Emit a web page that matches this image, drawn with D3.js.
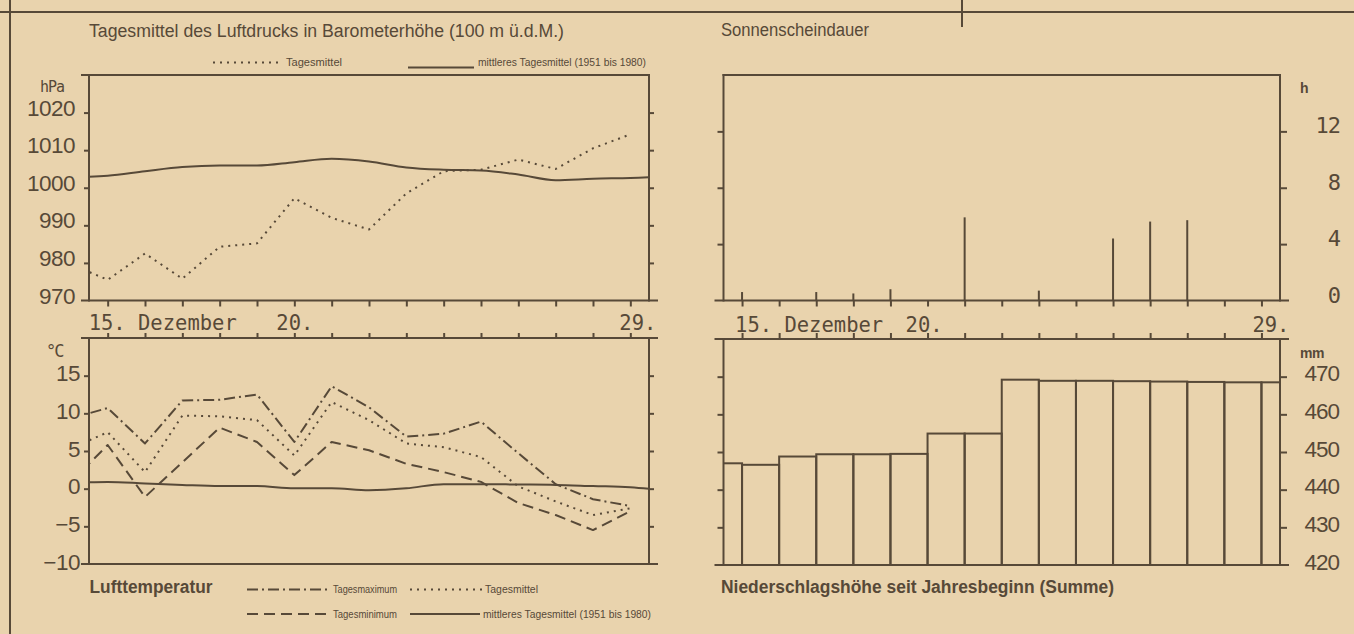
<!DOCTYPE html>
<html><head><meta charset="utf-8">
<script src="https://cdn.jsdelivr.net/npm/d3@7"></script>
<style>
html,body{margin:0;padding:0;background:#e9d3ad;}
svg{display:block}
</style></head><body>
<svg id="c" width="1354" height="634"></svg>
<script>
// ---------- data ----------
const days = [14,15,16,17,18,19,20,21,22,23,24,25,26,27,28,29];
const normalDays = [14,15,16,17,18,19,20,21,22,23,24,25,26,27,28,29,30];
const dayTicks = [15,16,17,18,19,20,21,22,23,24,25,26,27,28,29];

const pressureMean   = [979.7,975.5,982.5,975.8,984.3,985.2,997.2,992.0,988.9,998.5,1004.4,1004.8,1007.5,1005.0,1010.5,1014.2];
const pressureNormal = [1002.8,1003.2,1004.4,1005.5,1005.9,1005.9,1006.8,1007.7,1007.0,1005.4,1004.8,1004.6,1003.5,1002.0,1002.4,1002.6,1003.0];

const tempMax    = [9.3,10.7,6.0,11.7,11.8,12.5,6.2,13.6,10.8,6.9,7.3,8.9,4.7,0.6,-1.4,-2.3];
const tempMean   = [5.3,7.5,2.2,9.7,9.6,9.1,4.4,11.5,9.1,6.0,5.5,4.2,0.3,-1.7,-3.5,-2.6];
const tempMin    = [0.8,5.8,-1.1,3.5,8.1,6.2,1.8,6.2,5.1,3.3,2.2,0.9,-1.9,-3.5,-5.5,-3.0];
const tempNormal = [0.75,0.9,0.7,0.5,0.35,0.35,0.05,0.05,-0.2,0.05,0.6,0.6,0.55,0.5,0.35,0.2,-0.3];

const sunDays  = [15,16,17,18,19,20,21,22,23,24,25,26,27,28,29];
const sunshine = [0.6,0,0.6,0.5,0.8,0,5.9,0,0.7,0,4.4,5.6,5.7,0,0];

const precip = [447.0,446.6,448.8,449.4,449.4,449.5,454.9,454.9,469.2,468.9,468.9,468.8,468.7,468.6,468.5,468.5];

const pressureTicks = [970,980,990,1000,1010,1020];
const tempTicks = [-10,-5,0,5,10,15];
const sunTicks = [0,4,8,12];
const precipTicks = [420,430,440,450,460,470];
const dayLabelsLeft  = [{d:15,t:"15. Dezember",dx:-19},{d:20,t:"20.",dx:-18},{d:29,t:"29.",dx:-11}];
const dayLabelsRight = [{d:15,t:"15. Dezember",dx:-7},{d:20,t:"20.",dx:-22},{d:29,t:"29.",dx:-9}];

// ---------- setup ----------
const W=1354,H=634, INK="#574938", BG="#e9d3ad";
const svg = d3.select("#c");
svg.append("rect").attr("width",W).attr("height",H).attr("fill",BG);

const xL=d3.scaleLinear().domain([14.5,29.5]).range([89,649]);
const xR=d3.scaleLinear().domain([14.5,29.5]).range([723.5,1280]);
const yP=d3.scaleLinear().domain([970,1030]).range([300.5,75]);
const yT=d3.scaleLinear().domain([-10,20]).range([564,338]);
const yS=d3.scaleLinear().domain([0,16]).range([300.5,75]);
const yN=d3.scaleLinear().domain([420,480]).range([565,339]);

function seg(x1,y1,x2,y2,w){
  svg.append("line").attr("x1",x1).attr("y1",y1).attr("x2",x2).attr("y2",y2)
    .attr("stroke",INK).attr("stroke-width",w||2).attr("stroke-linecap","square");
}
function txt(x,y,s,o){
  o=o||{};
  const t=svg.append("text").attr("x",x).attr("y",y).text(s)
    .attr("fill",INK).attr("font-family",o.f||"Liberation Sans")
    .attr("font-size",o.s||18).attr("text-anchor",o.a||"start");
  if(o.w) t.attr("font-weight",o.w);
  if(o.tl){ t.attr("textLength",o.tl).attr("lengthAdjust","spacingAndGlyphs"); }
  if(o.ls) t.attr("letter-spacing",o.ls);
  return t;
}
function ax(gen, tx, ty){
  const g=svg.append("g").attr("transform",`translate(${tx},${ty})`).call(gen);
  g.select(".domain").remove();
  g.selectAll("line").attr("stroke",INK).attr("stroke-width",2);
  return g;
}

// ---------- page border ----------
seg(0,12,W,12,2);
seg(10,0,10,H,2);
seg(962,0,962,26,2);

// ---------- frames ----------
function frame(x, y, extL, extR, topExt){
  const [x0,x1]=x.range(); const [yb,yt]=y.range();
  seg(x0-(topExt?extL:0), yt, x1+(topExt?extR:0), yt);
  seg(x0-extL, yb, x1+extR, yb);
  seg(x0, yt, x0, yb); seg(x1, yt, x1, yb);
}
// pressure
(function(){const [x0,x1]=xL.range();
  seg(x0-7,yP.range()[1],x1,yP.range()[1]); seg(x0-7,yP(970),x1+8,yP(970));
  seg(x0,yP.range()[1],x0,yP(970)); seg(x1,yP.range()[1],x1,yP(970));})();
frame(xL,yT,7,8,true);
(function(){const [x0,x1]=xR.range();
  seg(x0,yS.range()[1],x1,yS.range()[1]); seg(x0-8,yS(0),x1+8,yS(0));
  seg(x0,yS.range()[1],x0,yS(0)); seg(x1,yS.range()[1],x1,yS(0));})();
frame(xR,yN,8,8,true);

// ---------- x ticks ----------
ax(d3.axisBottom(xL).tickValues(dayTicks).tickSize(6).tickFormat(""),0,yP(970));
ax(d3.axisTop(xL).tickValues(dayTicks).tickSize(5).tickFormat(""),0,yT.range()[1]);
ax(d3.axisBottom(xR).tickValues(dayTicks).tickSize(6).tickFormat(""),0,yS(0));
ax(d3.axisTop(xR).tickValues(dayTicks).tickSize(6).tickFormat(""),0,yN.range()[1]);

// ---------- y ticks ----------
ax(d3.axisLeft(yP).tickValues(pressureTicks.slice(1)).tickSize(5).tickFormat(""),xL.range()[0],0);
ax(d3.axisRight(yP).tickValues(pressureTicks.slice(1)).tickSize(5).tickFormat(""),xL.range()[1],0);
ax(d3.axisLeft(yT).tickValues(tempTicks.slice(1)).tickSize(5).tickFormat(""),xL.range()[0],0);
ax(d3.axisRight(yT).tickValues(tempTicks.slice(1)).tickSize(5).tickFormat(""),xL.range()[1],0);
ax(d3.axisLeft(yS).tickValues(sunTicks.slice(1)).tickSize(6).tickFormat(""),xR.range()[0],0);
ax(d3.axisRight(yS).tickValues(sunTicks.slice(1)).tickSize(7).tickFormat(""),xR.range()[1],0);
ax(d3.axisLeft(yN).tickValues(precipTicks.slice(1)).tickSize(6).tickFormat(""),xR.range()[0],0);
ax(d3.axisRight(yN).tickValues(precipTicks.slice(1)).tickSize(7).tickFormat(""),xR.range()[1],0);

// ---------- y labels ----------
pressureTicks.forEach(v=>txt(75,yP(v)+3,String(v),{s:22.5,a:"end",ls:-0.5}));
tempTicks.forEach(v=>txt(80,yT(v)+5.5,v<0?"\u2212"+Math.abs(v):String(v),{s:22.5,a:"end",ls:-0.5}));
sunTicks.forEach(v=>txt(1340,yS(v)+2,String(v),{s:22,a:"end",f:"DejaVu Sans Mono",ls:-1}));
precipTicks.forEach(v=>txt(1339,yN(v)+4.5,String(v),{s:22.5,a:"end",ls:-1}));

txt(40,92,"hPa",{s:15,f:"DejaVu Sans Mono",ls:-1});
txt(46,357,"°C",{s:17,f:"DejaVu Sans Mono",ls:-2});
txt(1300,93,"h",{s:14,w:"bold"});
txt(1300,358,"mm",{s:14,w:"bold",ls:-0.5});

// ---------- day labels ----------
dayLabelsLeft.forEach(o=>txt(xL(o.d)+o.dx,329.5,o.t,{s:20.5,f:"DejaVu Sans Mono"}));
dayLabelsRight.forEach(o=>txt(xR(o.d)+o.dx,331.5,o.t,{s:20.5,f:"DejaVu Sans Mono"}));

// ---------- clips ----------
const defs=svg.append("defs");
function clip(id,x,y){const [x0,x1]=x.range();const [yb,yt]=y.range();
  defs.append("clipPath").attr("id",id).append("rect").attr("x",x0).attr("y",yt-4).attr("width",x1-x0).attr("height",yb-yt+8);}
clip("cp",xL,yP); clip("ct",xL,yT); clip("cn",xR,yN);

function path(clipId, xs, ys, x, y, dash, curve){
  const ln=d3.line().x((d,i)=>x(xs[i])).y(d=>y(d)).curve(curve||d3.curveLinear);
  svg.append("path").attr("clip-path",`url(#${clipId})`).attr("d",ln(ys))
    .attr("fill","none").attr("stroke",INK).attr("stroke-width",2)
    .attr("stroke-dasharray",dash||null).attr("stroke-linejoin","round");
}
const DOT="2,5", DASHDOT="11,4,2,4", DASH="11,6";

// pressure
path("cp",normalDays,pressureNormal,xL,yP,null,d3.curveMonotoneX);
path("cp",days,pressureMean,xL,yP,DOT);
// temperature
path("ct",normalDays,tempNormal,xL,yT,null,d3.curveMonotoneX);
path("ct",days,tempMax,xL,yT,DASHDOT);
path("ct",days,tempMean,xL,yT,DOT);
path("ct",days,tempMin,xL,yT,DASH);

// sunshine bars
svg.append("g").selectAll("line").data(sunshine.map((v,i)=>({d:sunDays[i],v})).filter(o=>o.v>0))
  .join("line").attr("x1",o=>xR(o.d)).attr("x2",o=>xR(o.d))
  .attr("y1",yS(0)).attr("y2",o=>yS(o.v)).attr("stroke",INK).attr("stroke-width",2);

// precipitation bars
svg.append("g").attr("clip-path","url(#cn)").selectAll("rect").data(precip.map((v,i)=>({d:days[i],v})))
  .join("rect").attr("x",o=>xR(o.d)).attr("width",o=>xR(o.d+1)-xR(o.d))
  .attr("y",o=>yN(o.v)).attr("height",o=>yN(420)-yN(o.v))
  .attr("fill","none").attr("stroke",INK).attr("stroke-width",2);

// ---------- titles ----------
txt(89,37,"Tagesmittel des Luftdrucks in Barometerhöhe (100 m ü.d.M.)",{s:18,tl:475});
txt(721,36,"Sonnenscheindauer",{s:18,tl:148});
txt(89.5,593,"Lufttemperatur",{s:18,w:"bold",tl:123});
txt(721,593,"Niederschlagshöhe seit Jahresbeginn (Summe)",{s:18,w:"bold",tl:393});

// ---------- legends ----------
function legLine(x1,x2,y,dash){
  svg.append("line").attr("x1",x1).attr("x2",x2).attr("y1",y).attr("y2",y)
    .attr("stroke",INK).attr("stroke-width",2).attr("stroke-dasharray",dash||null);
}
legLine(213,283,62.5,DOT); txt(286,66,"Tagesmittel",{s:10,tl:56});
legLine(408,474,67.5,null); txt(478,66,"mittleres Tagesmittel (1951 bis 1980)",{s:10,tl:168});

legLine(247,330,589.5,DASHDOT); txt(333,593,"Tagesmaximum",{s:10,tl:64});
legLine(410,482,589.5,DOT); txt(485,593,"Tagesmittel",{s:10,tl:53});
legLine(247,330,614,DASH); txt(333,617.5,"Tagesminimum",{s:10,tl:64});
legLine(410,480,614,null); txt(483,617.5,"mittleres Tagesmittel (1951 bis 1980)",{s:10,tl:168});
</script>
</body></html>
